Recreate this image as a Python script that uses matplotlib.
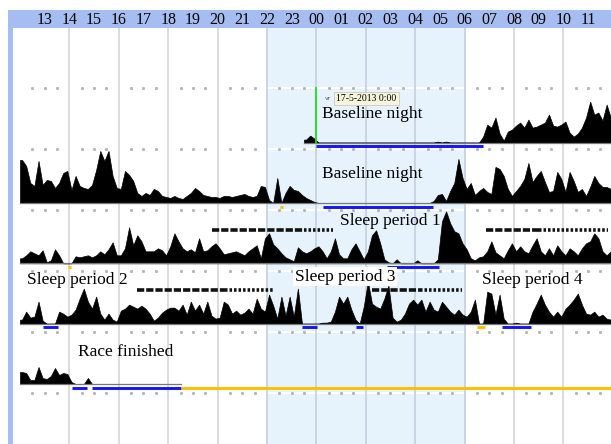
import numpy as np
import matplotlib
matplotlib.use("Agg")
from matplotlib import pyplot as plt

# hour labels on the top band, 13:00 .. 11:00 next day
hour_labels = ["13", "14", "15", "16", "17", "18", "19", "20", "21", "22", "23",
               "00", "01", "02", "03", "04", "05", "06", "07", "08", "09", "10", "11"]

# activity per 10-minute bin, hours counted from 12:00
row1_start = 11.5
row1_activity = [3, 7, 4,
                 0, 0, 0, 0, 0, 0, 0, 0, 0, 0, 0, 0, 0, 0, 0, 0, 0, 0, 0, 0, 0, 0, 0, 0, 0, 0, 0, 0, 0,
                 1, 0, 1,
                 0, 0, 0, 0, 0, 0, 0, 0,
                 6, 18, 15, 25, 9, 2,
                 11, 13, 17, 20, 15, 23,
                 15, 16, 18, 20, 28, 17,
                 16, 18, 21, 10, 6, 9,
                 15, 25, 41, 28, 30, 22,
                 38, 25]

row2_start = 0.0
row2_activity = [43, 37, 20, 17, 42, 18,
                 23, 22, 15, 20, 30, 32,
                 13, 27, 17, 15, 14, 18,
                 33, 52, 42, 52, 27, 15,
                 14, 32, 28, 22, 10, 7,
                 10, 8, 14, 12, 7, 6,
                 5, 7, 5, 4, 7, 10,
                 15, 12, 8, 7, 6, 6,
                 5, 7, 7, 6, 7, 8,
                 9, 7, 6, 7, 17, 16,
                 3, 0, 25, 0, 10, 17,
                 13, 12, 8, 5, 3, 1,
                 0, 0, 0, 0, 0, 0,
                 0, 0, 0, 0, 0, 0,
                 0, 0, 0, 0, 0, 0,
                 0, 0, 0, 0, 0, 0,
                 0, 0, 0, 0, 2, 8,
                 9, 2, 12, 20, 44, 25,
                 14, 20, 8, 12, 15, 11,
                 9, 36, 34, 27, 14, 7,
                 12, 17, 24, 40, 21, 27,
                 32, 21, 11, 12, 31, 24,
                 11, 31, 22, 11, 14, 7,
                 16, 27, 20, 16, 16, 14]

row3_start = 0.0
row3_activity = [5, 8, 12, 10, 8, 13,
                 1, 3, 14, 8, 0, 0,
                 0, 7, 6, 7, 8, 6,
                 8, 12, 9, 14, 21, 8,
                 8, 15, 36, 18, 28, 22,
                 12, 12, 12, 15, 13, 8,
                 17, 30, 22, 15, 12, 14,
                 11, 25, 12, 13, 17, 20,
                 15, 9, 10, 11, 12, 10,
                 8, 12, 15, 18, 5, 25,
                 30, 19, 15, 10, 6, 4,
                 2, 16, 12, 10, 12, 15,
                 17, 12, 5, 12, 25, 9,
                 5, 5, 14, 20, 12, 4,
                 12, 28, 33, 20, 4, 1,
                 0, 4, 0, 0, 0, 0,
                 3, 0, 0, 0, 0, 4,
                 42, 52, 40, 32, 30, 20,
                 14, 5, 3, 6, 7, 12,
                 22, 11, 8, 5, 13, 20,
                 12, 17, 12, 10, 18, 25,
                 12, 8, 15, 8, 18, 12,
                 8, 15, 12, 8, 15, 20,
                 22, 30, 25, 12, 8, 12]

row4_start = 0.0
row4_activity = [4, 12, 6, 7, 22, 3,
                 0, 0, 0, 12, 10, 7,
                 9, 14, 25, 35, 22, 15,
                 27, 10, 4, 10, 4, 2,
                 13, 15, 19, 17, 15, 18,
                 15, 10, 3, 6, 11, 14,
                 16, 16, 13, 19, 9, 22,
                 13, 19, 10, 22, 8, 5,
                 6, 22, 19, 10, 13, 9,
                 11, 15, 10, 25, 15, 12,
                 29, 18, 5, 27, 8, 27,
                 7, 35, 0, 0, 0, 0,
                 0, 1, 1, 2, 12, 27,
                 20, 27, 14, 4, 0, 17,
                 42, 20, 17, 15, 25, 38,
                 6, 2, 4, 10, 20, 24,
                 19, 24, 12, 22, 14, 12,
                 22, 17, 12, 9, 14, 9,
                 7, 12, 24, 0, 0, 32,
                 30, 9, 29, 5, 0, 0,
                 1, 0, 0, 0, 12, 20,
                 29, 19, 12, 7, 12, 7,
                 15, 19, 24, 30, 19, 10,
                 9, 12, 7, 9, 5, 4]

row5_start = 0.0
row5_activity = [12, 11, 4, 4, 17, 6, 5, 8, 16, 9, 11, 10, 2, 0, 0, 0, 6, 0]

rows = [(row1_start, row1_activity), (row2_start, row2_activity),
        (row3_start, row3_activity), (row4_start, row4_activity),
        (row5_start, row5_activity)]

# recorded span per row (hours from 12:00)
recorded = [(11.5, 24.0), (0.0, 24.0), (0.0, 24.0), (0.0, 24.0), (0.0, 6.5)]

# rest periods (blue) and off-wrist periods (orange)
rest_periods = [[(12.0, 18.75)],
                [(12.27, 16.72)],
                [(14.86, 16.97)],
                [(0.93, 1.54), (11.42, 12.02), (13.6, 13.9), (19.5, 20.7)],
                [(2.1, 2.7), (2.9, 6.5)]]
offwrist = [[],
            [(10.54, 10.66)],
            [(1.96, 2.08)],
            [(18.5, 18.83)],
            [(6.5, 24.0)]]

# sleep-log markers: row, start, where dashes turn to dots, end
log_lines = [(2, 7.77, 11.5, 12.67),
             (2, 18.87, 21.0, 23.8),
             (3, 4.74, 8.3, 10.28),
             (3, 14.25, 16.2, 17.9)]

# layout in pixels
W, H = 611, 444
PX_H = 24.7
X0 = 20
row_base = [142.6 + 60.35 * i for i in range(5)]
guide_y = [88 + 60.9 * i for i in range(6)]
top = 28

fig = plt.figure(figsize=(W / 100, H / 100), dpi=100)
ax = fig.add_axes([0, 0, 1, 1])
ax.set_xlim(-X0 / PX_H, (W - X0) / PX_H)
ax.set_ylim(H, 0)
ax.axis("off")

hx = lambda px: (px - X0) / PX_H

# night shading
ax.fill_between([10, 18], top, H, color="#e6f2fc", lw=0, zorder=0)
# header band and left border
ax.fill_between([hx(8), hx(W + 2)], 10, top, color="#a5bdf0", lw=0, zorder=6)
ax.fill_between([hx(8), hx(13)], 10, H, color="#a5bdf0", lw=0, zorder=6)
for i, lab in enumerate(hour_labels):
    ax.text(i + 1, 19.5, lab, ha="center", va="center", fontsize=11.5,
            family="Liberation Serif", zorder=7)

# horizontal guides and vertical grid
for gy in guide_y:
    ax.plot([hx(13), hx(W)], [gy, gy], color="white", lw=1.6, zorder=1)
    dots = [h for h in np.arange(0.5, 24, 0.5) if h % 2 != 0]
    ax.plot(dots, [gy] * len(dots), ls="none", marker="s", ms=1.1,
            color="#b5b5b5", zorder=2)
for h in range(2, 24, 2):
    col = "#c9d5e2" if 10 <= h <= 18 else "#dcdcdc"
    ax.plot([h, h], [top, H], color=col, lw=1.4, zorder=1.5)

# activity
for (start, vals), base in zip(rows, row_base):
    vals = np.array(vals, dtype=float)
    x = start + (np.arange(len(vals)) + 0.5) / 6
    x = np.concatenate([[start], x, [start + len(vals) / 6]])
    v = np.concatenate([[vals[0]], vals, [vals[-1]]])
    ax.fill_between(x, base - v, base, color="black", lw=0.5, zorder=3)

for (a, b), base in zip(recorded, row_base):
    ax.plot([a, b], [base, base], color="#777777", lw=0.9, zorder=3.2)

for periods, base in zip(rest_periods, row_base):
    for a, b in periods:
        ax.plot([a, b], [base + 3.6, base + 3.6], color="#1515f0", lw=2.1,
                solid_capstyle="butt", zorder=4)
for periods, base in zip(offwrist, row_base):
    for a, b in periods:
        ax.plot([a, b], [base + 3.6, base + 3.6], color="#ffbf00", lw=2.1,
                solid_capstyle="butt", zorder=4)

for r, a, m, b in log_lines:
    y = row_base[r] - 33.5
    ax.plot([a, m], [y, y], color="#111111", lw=2.6, dashes=(2.0, 0.55),
            dash_capstyle="butt", zorder=4)
    ax.plot([m, b], [y, y], color="#111111", lw=2.6, dashes=(0.7, 0.55),
            dash_capstyle="butt", zorder=4)

# start marker
ax.plot([12, 12], [guide_y[0], row_base[0]], color="#22dd22", lw=1.3, zorder=4.5)
ax.text(hx(336), 98.5, "17-5-2013 0:00", fontsize=7, family="Liberation Serif",
        va="center", zorder=5,
        bbox=dict(boxstyle="square,pad=0.25", fc="#f7f4dc", ec="#c8c8c8", lw=0.6))
ax.text(hx(325), 98.5, "vr", fontsize=4.5, family="DejaVu Sans", va="center",
        color="#555555", zorder=5.5)

fs = 12.5
tf = "Liberation Serif"
ax.text(hx(322), 114, "Baseline night", fontsize=fs, family=tf, va="center", zorder=5)
ax.text(hx(322), 174, "Baseline night", fontsize=fs, family=tf, va="center", zorder=5)
ax.text(hx(340), 221, "Sleep period 1", fontsize=fs, family=tf, va="center", zorder=5)
ax.text(hx(27), 280, "Sleep period 2", fontsize=fs, family=tf, va="center", zorder=5)
ax.text(hx(295), 276.5, "Sleep period 3", fontsize=fs, family=tf, va="center", zorder=5,
        bbox=dict(boxstyle="square,pad=0.1", fc="white", ec="none"))
ax.text(hx(482), 280, "Sleep period 4", fontsize=fs, family=tf, va="center", zorder=5)
ax.text(hx(78), 351.5, "Race finished", fontsize=fs, family=tf, va="center", zorder=5)

fig.savefig("out.png", dpi=100)
